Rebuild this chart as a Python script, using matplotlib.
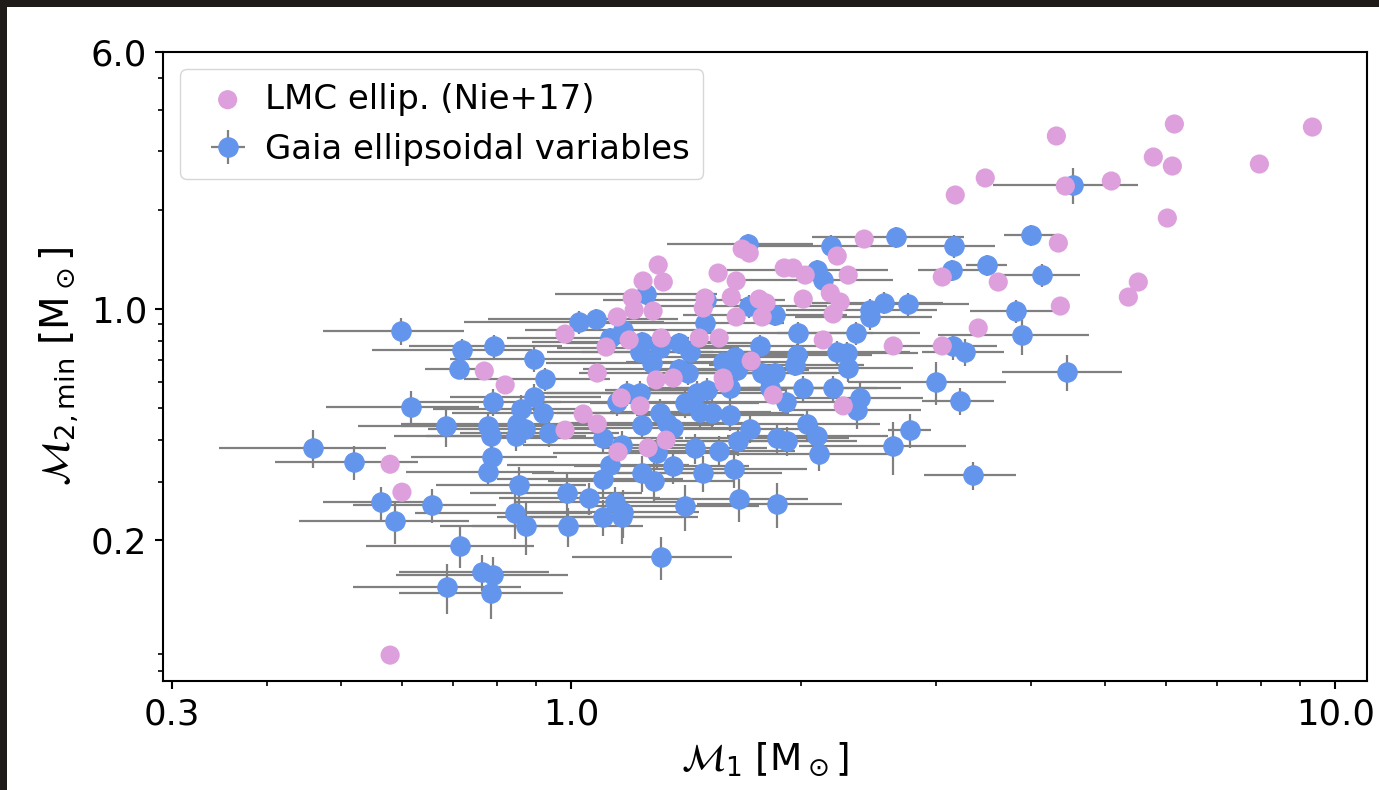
import numpy as np
import matplotlib
matplotlib.use("Agg")
import matplotlib.pyplot as plt
from matplotlib.patches import Rectangle
from matplotlib.ticker import FixedLocator, FixedFormatter, NullFormatter, LogLocator

# Gaia ellipsoidal variables: M1, M2_min and their uncertainties (Msun)
gaia_m1 = [0.459, 0.519, 0.563, 0.587, 0.657, 0.598, 0.617, 0.685, 0.719, 0.792,
           0.713, 0.894, 0.924, 0.790, 0.894, 0.859, 0.918, 0.778, 0.785, 0.849,
           0.870, 0.846, 0.935, 0.787, 0.778, 0.854, 0.844, 0.872, 0.715, 0.688,
           0.764, 0.790, 0.785, 0.987, 1.055, 0.990, 1.023, 1.077, 1.252, 1.169,
           1.124, 1.238, 1.230, 1.275, 1.307, 1.384, 1.430, 1.422, 1.384, 1.496,
           1.501, 1.709, 1.848, 1.766, 1.981, 1.975, 1.963, 1.580, 1.638, 1.648,
           1.614, 1.777, 1.848, 1.820, 1.910, 2.011, 2.097, 2.136, 2.201, 2.228,
           1.183, 1.230, 1.148, 1.409, 1.461, 1.505, 1.474, 1.529, 1.614, 1.238,
           1.307, 1.359, 1.714, 1.859, 2.035, 2.097, 1.100, 1.165, 1.124, 1.100,
           1.141, 1.169, 1.100, 1.165, 1.238, 1.283, 1.295, 1.359, 1.452, 1.488,
           1.561, 1.633, 1.653, 1.916, 2.110, 1.409, 1.658, 1.859, 1.311, 1.335,
           1.703, 2.188, 4.539, 2.662, 3.170, 3.999, 3.151, 3.502, 4.134, 2.461,
           2.461, 2.567, 2.760, 3.822, 3.892, 2.360, 3.161, 3.278, 2.296, 2.303,
           3.003, 2.388, 2.367, 3.228, 2.777, 2.638, 3.357, 4.458]
gaia_m2 = [0.380, 0.344, 0.260, 0.228, 0.255, 0.858, 0.505, 0.442, 0.751, 0.773,
           0.658, 0.706, 0.614, 0.523, 0.542, 0.498, 0.484, 0.442, 0.413, 0.449,
           0.433, 0.413, 0.421, 0.356, 0.321, 0.293, 0.241, 0.220, 0.192, 0.144,
           0.160, 0.157, 0.138, 0.277, 0.268, 0.220, 0.913, 0.933, 1.110, 0.864,
           0.817, 0.795, 0.741, 0.686, 0.762, 0.789, 0.741, 0.640, 0.658, 0.907,
           1.065, 1.021, 0.959, 0.773, 0.846, 0.726, 0.677, 0.691, 0.716, 0.654,
           0.577, 0.640, 0.640, 0.577, 0.523, 0.577, 1.312, 1.224, 0.577, 0.741,
           0.557, 0.557, 0.523, 0.519, 0.557, 0.569, 0.488, 0.484, 0.478, 0.445,
           0.484, 0.436, 0.433, 0.407, 0.449, 0.413, 0.407, 0.388, 0.337, 0.306,
           0.260, 0.243, 0.235, 0.235, 0.319, 0.301, 0.366, 0.335, 0.379, 0.319,
           0.372, 0.328, 0.398, 0.398, 0.364, 0.253, 0.266, 0.257, 0.1775, 0.452,
           1.573, 1.551, 2.374, 1.652, 1.551, 1.675, 1.312, 1.359, 1.267, 0.993,
           0.946, 1.043, 1.035, 0.986, 0.834, 0.846, 0.773, 0.741, 0.736, 0.663,
           0.601, 0.538, 0.494, 0.527, 0.430, 0.385, 0.314, 0.645]
gaia_m1_err = [0.113, 0.11, 0.09, 0.147, 0.14, 0.125, 0.14, 0.16, 0.17, 0.18,
               0.07, 0.20, 0.20, 0.18, 0.20, 0.20, 0.22, 0.18, 0.20, 0.25,
               0.22, 0.20, 0.22, 0.17, 0.17, 0.19, 0.22, 0.20, 0.177, 0.17,
               0.17, 0.20, 0.19, 0.25, 0.25, 0.25, 0.30, 0.30, 0.30, 0.30,
               0.30, 0.35, 0.30, 0.35, 0.35, 0.40, 0.40, 0.40, 0.35, 0.40,
               0.40, 0.45, 0.45, 0.45, 0.50, 0.50, 0.45, 0.40, 0.40, 0.40,
               0.40, 0.45, 0.45, 0.45, 0.45, 0.50, 0.50, 0.50, 0.50, 0.55,
               0.30, 0.30, 0.30, 0.35, 0.35, 0.40, 0.35, 0.40, 0.40, 0.30,
               0.35, 0.35, 0.40, 0.45, 0.50, 0.50, 0.30, 0.30, 0.30, 0.30,
               0.30, 0.30, 0.30, 0.30, 0.35, 0.35, 0.35, 0.35, 0.35, 0.40,
               0.40, 0.40, 0.40, 0.45, 0.50, 0.35, 0.38, 0.40, 0.31, 0.35,
               0.37, 0.45, 0.98, 0.60, 0.42, 0.32, 0.31, 0.22, 0.50, 0.55,
               0.50, 0.50, 0.55, 0.50, 0.87, 0.50, 0.45, 0.40, 0.55, 0.50,
               0.70, 0.50, 0.50, 0.35, 0.18, 0.65, 0.46, 0.80]
gaia_m2_err = [0.05, 0.04, 0.03, 0.033, 0.03, 0.08, 0.06, 0.06, 0.06, 0.06,
               0.04, 0.06, 0.05, 0.05, 0.05, 0.05, 0.05, 0.04, 0.04, 0.05,
               0.04, 0.04, 0.04, 0.035, 0.03, 0.04, 0.04, 0.04, 0.028, 0.025,
               0.02, 0.02, 0.023, 0.04, 0.03, 0.03, 0.07, 0.07, 0.08, 0.06,
               0.06, 0.06, 0.06, 0.05, 0.06, 0.06, 0.06, 0.05, 0.05, 0.07,
               0.08, 0.08, 0.07, 0.06, 0.07, 0.06, 0.05, 0.05, 0.06, 0.05,
               0.05, 0.05, 0.05, 0.05, 0.05, 0.05, 0.10, 0.10, 0.05, 0.06,
               0.05, 0.05, 0.05, 0.05, 0.05, 0.05, 0.05, 0.05, 0.05, 0.04,
               0.05, 0.04, 0.04, 0.04, 0.05, 0.04, 0.04, 0.04, 0.04, 0.04,
               0.03, 0.04, 0.03, 0.04, 0.04, 0.04, 0.04, 0.04, 0.04, 0.04,
               0.04, 0.04, 0.04, 0.04, 0.04, 0.04, 0.04, 0.04, 0.026, 0.05,
               0.12, 0.12, 0.30, 0.12, 0.12, 0.12, 0.10, 0.10, 0.10, 0.08,
               0.08, 0.08, 0.08, 0.08, 0.11, 0.07, 0.07, 0.07, 0.06, 0.06,
               0.09, 0.06, 0.06, 0.05, 0.05, 0.07, 0.03, 0.08]

# LMC ellipsoidal binaries (Nie+17)
lmc_m1 = [0.579, 0.579, 0.600, 0.769, 0.819, 0.981, 0.981, 1.036, 1.081, 1.081,
          1.110, 1.148, 1.151, 1.162, 1.190, 1.201, 1.208, 1.230, 1.241, 1.260,
          1.279, 1.291, 1.299, 1.311, 1.319, 1.330, 1.359, 1.470, 1.488, 1.496,
          1.556, 1.561, 1.580, 1.585, 1.619, 1.643, 1.643, 1.673, 1.709, 1.719,
          1.761, 1.777, 1.798, 1.837, 1.899, 1.951, 2.011, 2.023, 2.136, 2.182,
          2.201, 2.228, 2.248, 2.269, 2.303, 2.417, 2.638, 3.058, 3.058, 3.180,
          3.408, 3.481, 3.620, 4.313, 4.339, 4.365, 4.431, 5.090, 5.358, 5.521,
          5.777, 6.026, 6.118, 6.155, 7.953, 9.331]
lmc_m2 = [0.0896, 0.339, 0.279, 0.649, 0.589, 0.840, 0.430, 0.481, 0.640, 0.449,
          0.767, 0.946, 0.369, 0.538, 0.806, 1.080, 0.993, 0.509, 1.216, 0.380,
          0.986, 0.610, 1.359, 0.817, 1.207, 0.401, 0.618, 0.817, 1.007, 1.080,
          1.285, 0.817, 0.618, 0.597, 1.087, 1.216, 0.946, 1.519, 1.477, 0.696,
          1.072, 0.946, 1.043, 0.549, 1.331, 1.331, 1.072, 1.267, 0.806, 1.118,
          0.966, 1.447, 1.050, 0.509, 1.267, 1.629, 0.773, 1.250, 0.773, 2.214,
          0.876, 2.493, 1.207, 3.341, 1.584, 1.021, 2.357, 2.441, 1.087, 1.207,
          2.885, 1.886, 2.710, 3.632, 2.748, 3.556]

x_ticks = [0.3, 1.0, 10.0]
x_ticklabels = ["0.3", "1.0", "10.0"]
y_ticks = [0.2, 1.0, 6.0]
y_ticklabels = ["0.2", "1.0", "6.0"]

fig = plt.figure(figsize=(13.79, 7.90), dpi=100)
fig.patch.set_facecolor("#1f1b19")
fig.add_artist(Rectangle((7 / 1379, 0), 1, 1 - 7 / 790, transform=fig.transFigure,
                         facecolor="white", edgecolor="none", zorder=-5))

ax = fig.add_axes([163 / 1379, 1 - 681 / 790, (1367 - 163) / 1379, (681 - 52) / 790])

gaia = ax.errorbar(gaia_m1, gaia_m2, xerr=gaia_m1_err, yerr=gaia_m2_err, fmt="o",
                   color="cornflowerblue", ecolor="gray", elinewidth=1.6,
                   markersize=13.8, capsize=0, zorder=2)
lmc = ax.scatter(lmc_m1, lmc_m2, s=13.8 ** 2, color="plum", edgecolors="none", zorder=3)

ax.set_xscale("log")
ax.set_yscale("log")
ax.set_xlim(0.292, 11.0)
ax.set_ylim(0.0748, 6.0)

ax.xaxis.set_major_locator(FixedLocator(x_ticks))
ax.xaxis.set_major_formatter(FixedFormatter(x_ticklabels))
ax.yaxis.set_major_locator(FixedLocator(y_ticks))
ax.yaxis.set_major_formatter(FixedFormatter(y_ticklabels))
ax.xaxis.set_minor_locator(LogLocator(subs=np.arange(2, 10)))
ax.yaxis.set_minor_locator(LogLocator(subs=np.arange(2, 10)))
ax.xaxis.set_minor_formatter(NullFormatter())
ax.yaxis.set_minor_formatter(NullFormatter())

for s in ax.spines.values():
    s.set_linewidth(1.5)
ax.tick_params(which="major", length=6, width=1.5, labelsize=25.5)
ax.tick_params(axis="x", which="major", pad=6)
ax.tick_params(axis="y", which="major", pad=5.5)
ax.tick_params(which="minor", length=3.8, width=1.2)

ax.set_xlabel(r"$\mathcal{M}_1$ [M$_\odot$]", fontsize=27, labelpad=6)
ax.set_ylabel(r"$\mathcal{M}_{2,\mathrm{min}}$ [M$_\odot$]", fontsize=28, labelpad=8)

ax.legend([lmc, gaia], ["LMC ellip. (Nie+17)", "Gaia ellipsoidal variables"],
          loc="upper left", fontsize=24.5, handletextpad=0.1)

fig.savefig("out.png", dpi=100, facecolor=fig.get_facecolor())
